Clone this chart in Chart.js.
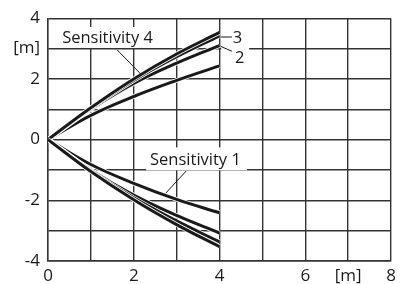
<!DOCTYPE html>
<html>
<head>
<meta charset="utf-8">
<script src="https://cdn.jsdelivr.net/npm/chart.js@4"></script>
<style>
  html, body { margin: 0; padding: 0; background: #fff; }
  #wrap { width: 409px; height: 284px; position: relative; }
</style>
</head>
<body>
<div id="wrap"><canvas id="chart"></canvas></div>
<script>
// --- Datos ---
const X_VALUES = [0, 1, 2, 3, 4];

// curvas superiores (sensibilidad 4..1)
const UPPER_S4 = [0, 1.05, 2.00, 2.82, 3.53];
const UPPER_S3 = [0, 1.03, 1.95, 2.73, 3.42];
const UPPER_S2 = [0, 1.00, 1.85, 2.52, 3.10];
const UPPER_S1 = [0, 0.80, 1.42, 1.95, 2.43];

// curvas inferiores
const LOWER_S4 = [0, -1.05, -1.98, -2.80, -3.53];
const LOWER_S3 = [0, -1.03, -1.92, -2.68, -3.37];
const LOWER_S2 = [0, -1.00, -1.83, -2.50, -3.08];
const LOWER_S1 = [0, -0.82, -1.44, -1.97, -2.41];

const X_TICKS = [0, 2, 4, 6, 8];
const Y_TICKS = [-4, -2, 0, 2, 4];
const UNIT_LABEL = "[m]";

const FONT = "'Open Sans', 'Noto Sans', sans-serif";
const INK = "#1a1a1a";
const GRID = "#333333";

const curves = [
  UPPER_S1, LOWER_S1, UPPER_S2, LOWER_S2,
  UPPER_S3, LOWER_S3, UPPER_S4, LOWER_S4
];

// cada curva: un "casing" blanco debajo y la línea negra encima
const datasets = [];
curves.forEach((vals, i) => {
  const pts = X_VALUES.map((x, k) => ({ x, y: vals[k] }));
  const order = (curves.length - i) * 2;
  datasets.push({
    data: pts, borderColor: "#ffffff", borderWidth: 4.6,
    pointRadius: 0, fill: false, tension: 0.4, order: order + 1
  });
  datasets.push({
    data: pts, borderColor: INK, borderWidth: 3,
    pointRadius: 0, fill: false, tension: 0.4, order: order
  });
});

// Etiquetas y líneas guía (en unidades de datos)
const notes = {
  boxes: [
    { x0: 0.23, x1: 2.59, y0: 3.71, y1: 3.02 },
    { x0: 2.29, x1: 4.64, y0: -0.26, y1: -1.01 },
    { x0: 4.04, x1: 4.69, y0: 3.71, y1: 2.47 }
  ],
  texts: [
    { t: "Sensitivity 4", x: 0.33, y: 3.19, w: 93 },
    { t: "Sensitivity 1", x: 2.38, y: -0.83, w: 91 },
    { t: "3", x: 4.31, y: 3.19 },
    { t: "2", x: 4.36, y: 2.54 }
  ],
  leaders: [
    [1.61, 2.96, 2.17, 2.15],
    [3.22, -1.04, 2.75, -1.76],
    [4.03, 3.38, 4.29, 3.38],
    [4.03, 3.07, 4.29, 2.91]
  ]
};

const notesPlugin = {
  id: "notes",
  afterDatasetsDraw(chart) {
    const { ctx, scales: { x, y } } = chart;
    ctx.save();
    ctx.fillStyle = "#fff";
    for (const b of notes.boxes) {
      const px0 = x.getPixelForValue(b.x0), px1 = x.getPixelForValue(b.x1);
      const py0 = y.getPixelForValue(b.y0), py1 = y.getPixelForValue(b.y1);
      ctx.fillRect(px0, py0, px1 - px0, py1 - py0);
    }
    ctx.strokeStyle = INK;
    ctx.lineWidth = 1;
    for (const l of notes.leaders) {
      ctx.beginPath();
      ctx.moveTo(x.getPixelForValue(l[0]), y.getPixelForValue(l[1]));
      ctx.lineTo(x.getPixelForValue(l[2]), y.getPixelForValue(l[3]));
      ctx.stroke();
    }
    ctx.fillStyle = INK;
    ctx.font = "16.5px " + FONT;
    ctx.textBaseline = "alphabetic";
    ctx.textAlign = "left";
    for (const t of notes.texts) {
      const px = x.getPixelForValue(t.x), py = y.getPixelForValue(t.y);
      if (t.w) ctx.fillText(t.t, px, py, t.w);
      else ctx.fillText(t.t, px, py);
    }
    ctx.restore();
  }
};

new Chart(document.getElementById("chart"), {
  type: "line",
  data: { datasets },
  plugins: [notesPlugin],
  options: {
    responsive: true,
    maintainAspectRatio: false,
    animation: false,
    events: [],
    layout: { padding: { top: 15, right: 18, left: 0, bottom: 0 } },
    plugins: { legend: { display: false }, tooltip: { enabled: false } },
    scales: {
      x: {
        type: "linear", min: 0, max: 8,
        afterFit: (s) => { s.height = 23; },
        grid: { color: GRID, lineWidth: 1.4, drawTicks: false },
        border: { display: true, color: GRID, width: 1.4 },
        ticks: {
          stepSize: 1, autoSkip: false, padding: 5, color: INK,
          font: { family: FONT, size: 17 },
          callback: (v) => X_TICKS.includes(v) ? String(v) : (v === 7 ? UNIT_LABEL : "")
        }
      },
      y: {
        type: "linear", min: -4, max: 4,
        afterFit: (s) => { s.width = 48; },
        grid: { color: GRID, lineWidth: 1.4, drawTicks: false },
        border: { display: true, color: GRID, width: 1.4 },
        ticks: {
          stepSize: 1, autoSkip: false, padding: 8, color: INK,
          font: { family: FONT, size: 17 },
          callback: (v) => Y_TICKS.includes(v) ? String(v) : (v === 3 ? UNIT_LABEL : "")
        }
      }
    }
  }
});
</script>
</body>
</html>
